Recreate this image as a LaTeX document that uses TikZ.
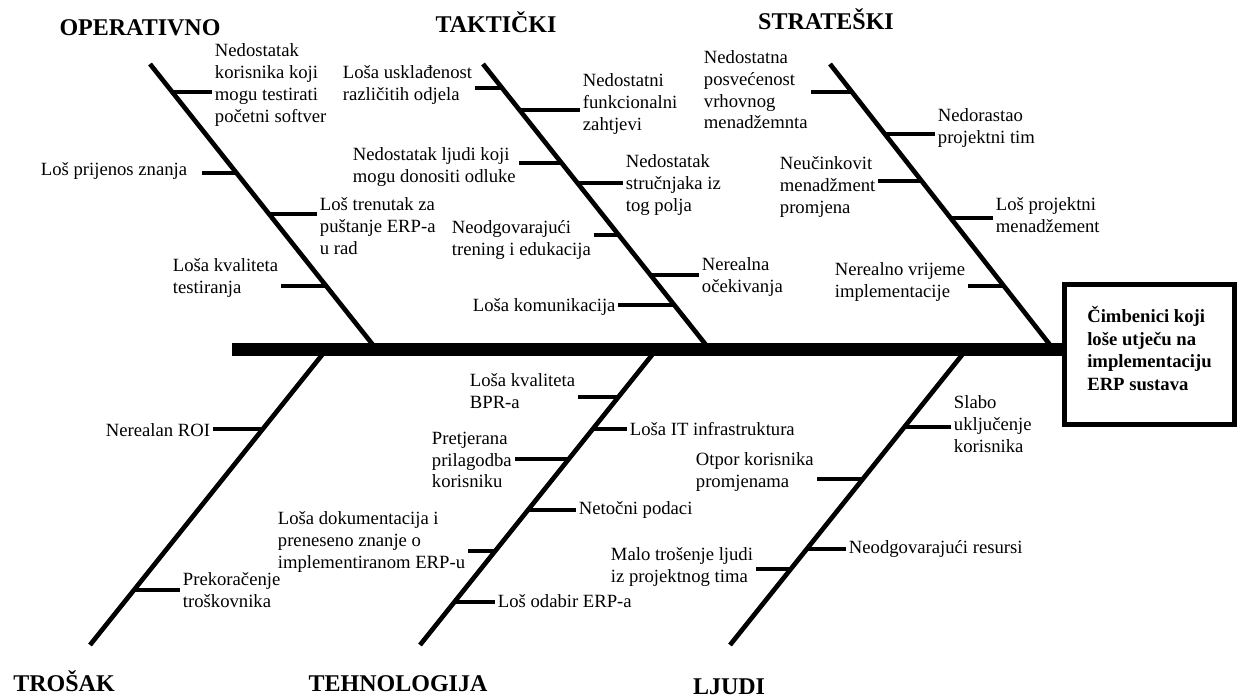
\documentclass[tikz,border=0pt]{standalone}
\usepackage{fontspec}
\setmainfont{Liberation Serif}
\usepackage{tikz}
\usetikzlibrary{calc}
\definecolor{ink}{HTML}{000000}
\tikzset{
  spine/.style={draw=ink, line width=9.75pt},
  bone/.style={draw=ink, line width=3.5pt},
  tick/.style={draw=ink, line width=2.8pt},
  lab/.style={text=ink, font=\fontsize{14}{16.3}\selectfont, align=left, inner sep=2pt, anchor=west},
  head/.style={text=ink, font=\fontsize{18}{20}\selectfont\bfseries, anchor=base, inner sep=0pt},
  eff/.style={draw=ink, line width=3.75pt, minimum width=127.5pt, minimum height=105pt, inner sep=0pt},
  efft/.style={text=ink, align=left, inner sep=0pt, font=\fontsize{14}{16.9}\selectfont\bfseries},
}

\begin{document}
\begin{tikzpicture}[x=0.75pt, y=-0.75pt]
  \useasboundingbox (0,0) rectangle (1238,698);
  % effect and spine
  \node[eff] (eff) at (1149.5,354.5) {};
  \node[efft] (eff-t) at ($(eff.center)+(0,-6)$) {Čimbenici koji\\loše utječu na\\implementaciju\\ERP sustava};
  \coordinate (tail) at (232,350);
  \draw[spine] (tail) -- (tail -| eff.west);
  % bones
  \coordinate (op-t) at (150,64);  \coordinate (op-b) at (377,350);
  \coordinate (ta-t) at (483,64);  \coordinate (ta-b) at (710,350);
  \coordinate (st-t) at (830,64);  \coordinate (st-b) at (1054,350);
  \coordinate (tr-t) at (326,350); \coordinate (tr-b) at (90,645);
  \coordinate (te-t) at (656,350); \coordinate (te-b) at (420,645);
  \coordinate (lj-t) at (966,350); \coordinate (lj-b) at (730,645);
  \draw[bone] (op-t) -- (op-b);
  \draw[bone] (ta-t) -- (ta-b);
  \draw[bone] (st-t) -- (st-b);
  \draw[bone] (tr-t) -- (tr-b);
  \draw[bone] (te-t) -- (te-b);
  \draw[bone] (lj-t) -- (lj-b);
  % headings
  \node[head] (h-op) at (140,36) {OPERATIVNO};
  \node[head] (h-ta) at (496,33) {TAKTIČKI};
  \node[head] (h-st) at (826,30) {STRATEŠKI};
  \node[head] (h-tr) at (64,691) {TROŠAK};
  \node[head] (h-te) at (398,691) {TEHNOLOGIJA};
  \node[head] (h-lj) at (729,694) {LJUDI};
  % operativno
  \coordinate (o1) at ($(op-t)!0.098!(op-b)$); \node[lab] (n-o1) at (212,85) {Nedostatak\\korisnika koji\\mogu testirati\\početni softver}; \draw[tick] (o1) -- (o1 -| n-o1.west);
  \coordinate (o2) at ($(op-t)!0.381!(op-b)$); \node[lab] (n-o2) at (38,171) {Loš prijenos znanja}; \draw[tick] (o2) -- ([xshift=9pt]o2 -| n-o2.east);
  \coordinate (o3) at ($(op-t)!0.524!(op-b)$); \node[lab] (n-o3) at (317,226) {Loš trenutak za\\puštanje ERP-a\\u rad}; \draw[tick] (o3) -- (o3 -| n-o3.west);
  \coordinate (o4) at ($(op-t)!0.776!(op-b)$); \node[lab] (n-o4) at (170,278) {Loša kvaliteta\\testiranja}; \draw[tick] (o4) -- (o4 -| n-o4.east);
  % takticki
  \coordinate (t1) at ($(ta-t)!0.084!(ta-b)$); \node[lab] (n-t1) at (340,85) {Loša usklađenost\\različitih odjela}; \draw[tick] (t1) -- (t1 -| n-t1.east);
  \coordinate (t2) at ($(ta-t)!0.161!(ta-b)$); \node[lab] (n-t2) at (580,104) {Nedostatni\\funkcionalni\\zahtjevi}; \draw[tick] (t2) -- (t2 -| n-t2.west);
  \coordinate (t3) at ($(ta-t)!0.346!(ta-b)$); \node[lab] (n-t3) at (350,167) {Nedostatak ljudi koji\\mogu donositi odluke}; \draw[tick] (t3) -- (t3 -| n-t3.east);
  \coordinate (t4) at ($(ta-t)!0.416!(ta-b)$); \node[lab] (n-t4) at (623,185) {Nedostatak\\stručnjaka iz\\tog polja}; \draw[tick] (t4) -- (t4 -| n-t4.west);
  \coordinate (t5) at ($(ta-t)!0.598!(ta-b)$); \node[lab] (n-t5) at (449,240) {Neodgovarajući\\trening i edukacija}; \draw[tick] (t5) -- (t5 -| n-t5.east);
  \coordinate (t6) at ($(ta-t)!0.738!(ta-b)$); \node[lab] (n-t6) at (699,277) {Nerealna\\očekivanja}; \draw[tick] (t6) -- (t6 -| n-t6.west);
  \coordinate (t7) at ($(ta-t)!0.843!(ta-b)$); \node[lab] (n-t7) at (470,307) {Loša komunikacija}; \draw[tick] (t7) -- (t7 -| n-t7.east);
  % strateski
  \coordinate (s1) at ($(st-t)!0.098!(st-b)$); \node[lab] (n-s1) at (701,90) {Nedostatna\\posvećenost\\vrhovnog\\menadžemnta}; \draw[tick] (s1) -- (s1 -| n-s1.east);
  \coordinate (s2) at ($(st-t)!0.245!(st-b)$); \node[lab] (n-s2) at (935,128) {Nedorastao\\projektni tim}; \draw[tick] (s2) -- (s2 -| n-s2.west);
  \coordinate (s3) at ($(st-t)!0.409!(st-b)$); \node[lab] (n-s3) at (777,187) {Neučinkovit\\menadžment\\promjena}; \draw[tick] (s3) -- (s3 -| n-s3.east);
  \coordinate (s4) at ($(st-t)!0.538!(st-b)$); \node[lab] (n-s4) at (993,215) {Loš projektni\\menadžement}; \draw[tick] (s4) -- (s4 -| n-s4.west);
  \coordinate (s5) at ($(st-t)!0.776!(st-b)$); \node[lab] (n-s5) at (832,282) {Nerealno vrijeme\\implementacije}; \draw[tick] (s5) -- (s5 -| n-s5.east);
  % trosak
  \coordinate (c1) at ($(tr-t)!0.268!(tr-b)$); \node[lab] (n-c1) at (103,430) {Nerealan ROI}; \draw[tick] (c1) -- (c1 -| n-c1.east);
  \coordinate (c2) at ($(tr-t)!0.814!(tr-b)$); \node[lab] (n-c2) at (180,590) {Prekoračenje\\troškovnika}; \draw[tick] (c2) -- (c2 -| n-c2.west);
  % tehnologija
  \coordinate (e1) at ($(te-t)!0.159!(te-b)$); \node[lab] (n-e1) at (467,391) {Loša kvaliteta\\BPR-a}; \draw[tick] (e1) -- (e1 -| n-e1.east);
  \coordinate (e2) at ($(te-t)!0.268!(te-b)$); \node[lab] (n-e2) at (627,429) {Loša IT infrastruktura}; \draw[tick] (e2) -- (e2 -| n-e2.west);
  \coordinate (e3) at ($(te-t)!0.369!(te-b)$); \node[lab] (n-e3) at (429,460) {Pretjerana\\prilagodba\\korisniku}; \draw[tick] (e3) -- (e3 -| n-e3.east);
  \coordinate (e4) at ($(te-t)!0.542!(te-b)$); \node[lab] (n-e4) at (576,510) {Netočni podaci}; \draw[tick] (e4) -- (e4 -| n-e4.west);
  \coordinate (e5) at ($(te-t)!0.681!(te-b)$); \node[lab] (n-e5) at (275,542) {Loša dokumentacija i\\preneseno znanje o\\implementiranom ERP-u}; \draw[tick] (e5) -- (e5 -| n-e5.east);
  \coordinate (e6) at ($(te-t)!0.854!(te-b)$); \node[lab] (n-e6) at (495,601) {Loš odabir ERP-a}; \draw[tick] (e6) -- (e6 -| n-e6.west);
  % ljudi
  \coordinate (p1) at ($(lj-t)!0.261!(lj-b)$); \node[lab] (n-p1) at (951,424) {Slabo\\uključenje\\korisnika}; \draw[tick] (p1) -- (p1 -| n-p1.west);
  \coordinate (p2) at ($(lj-t)!0.437!(lj-b)$); \node[lab] (n-p2) at (693,472) {Otpor korisnika\\promjenama}; \draw[tick] (p2) -- (p2 -| n-p2.east);
  \coordinate (p3) at ($(lj-t)!0.675!(lj-b)$); \node[lab] (n-p3) at (846,549) {Neodgovarajući resursi}; \draw[tick] (p3) -- (p3 -| n-p3.west);
  \coordinate (p4) at ($(lj-t)!0.742!(lj-b)$); \node[lab] (n-p4) at (608,567) {Malo trošenje ljudi\\iz projektnog tima}; \draw[tick] (p4) -- (p4 -| n-p4.east);
\end{tikzpicture}
\end{document}
